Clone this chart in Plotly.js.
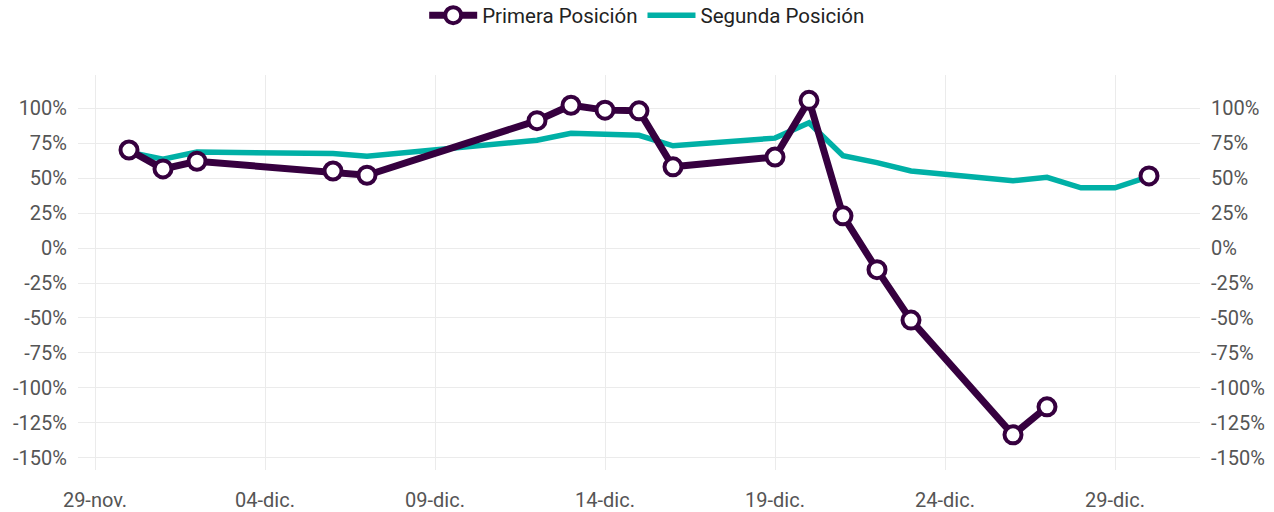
<!DOCTYPE html>
<html>
<head>
<meta charset="utf-8">
<script src="https://cdn.plot.ly/plotly-3.0.1.min.js"></script>
<style>html,body{margin:0;padding:0;background:#fff;}#chart{width:1274px;height:512px;}</style>
</head>
<body>
<div id="chart"></div>
<script>
const dates = ['2021-11-30','2021-12-01','2021-12-02','2021-12-06','2021-12-07','2021-12-12','2021-12-13','2021-12-14','2021-12-15','2021-12-16','2021-12-19','2021-12-20','2021-12-21','2021-12-22','2021-12-23','2021-12-26','2021-12-27','2021-12-28','2021-12-29','2021-12-30'];
const primera = [70, 56.5, 62, 55, 52, 91, 102, 98.5, 98, 58, 65, 105.5, 23, -15.5, -51.5, -133.5, -113.5, null, null, 51.5];
const segunda = [68.5, 63.5, 68.5, 67.5, 65.5, 77, 82, 81.5, 80.5, 73, 78.5, 89.5, 66, 61, 55, 48, 50.5, 43, 43, 51];
const xTickVals = ['2021-11-29','2021-12-04','2021-12-09','2021-12-14','2021-12-19','2021-12-24','2021-12-29'];
const xTickText = ['29-nov.','04-dic.','09-dic.','14-dic.','19-dic.','24-dic.','29-dic.'];
const yTickVals = [-150,-125,-100,-75,-50,-25,0,25,50,75,100];
const yTickText = ['-150%','-125%','-100%','-75%','-50%','-25%','0%','25%','50%','75%','100%'];
const seriesNames = ['Primera Posición','Segunda Posición'];

const purple = '#36003f';
const teal = '#00b0a6';
const yRange = [-158.6, 123.6];
const fontFam = 'Roboto, sans-serif';

const traces = [
  {x: dates, y: segunda, name: seriesNames[1], type: 'scatter', mode: 'lines',
   line: {color: teal, width: 5.5}, connectgaps: false, hoverinfo: 'skip'},
  {x: dates, y: primera, name: seriesNames[0], type: 'scatter', mode: 'lines+markers',
   line: {color: purple, width: 7}, connectgaps: false,
   marker: {symbol: 'circle', size: 17, color: '#ffffff', line: {color: purple, width: 4}},
   hoverinfo: 'skip'},
  {x: dates, y: segunda, yaxis: 'y2', type: 'scatter', mode: 'lines', showlegend: false,
   line: {color: 'rgba(0,0,0,0)', width: 0}, hoverinfo: 'skip'}
];

const tickFont = {family: fontFam, size: 20, color: '#555555'};
const layout = {
  width: 1274, height: 512,
  margin: {l: 78, r: 74, t: 75, b: 42},
  paper_bgcolor: '#ffffff', plot_bgcolor: '#ffffff',
  font: {family: fontFam, size: 20, color: '#222222'},
  showlegend: true,
  legend: {orientation: 'h', x: 0.508, xref: 'container', xanchor: 'center',
           y: 0.97, yref: 'container', yanchor: 'middle', itemwidth: 48,
           traceorder: 'reversed', font: {family: fontFam, size: 20.5, color: '#222222'}},
  xaxis: {type: 'date', range: ['2021-11-28 12:00', '2021-12-31 12:00'],
          tickvals: xTickVals, ticktext: xTickText, tickfont: tickFont,
          showgrid: true, gridcolor: '#ebebeb', gridwidth: 1, zeroline: false,
          showline: false, ticks: '', ticklabelstandoff: 16},
  yaxis: {range: yRange, tickvals: yTickVals, ticktext: yTickText, tickfont: tickFont,
          showgrid: true, gridcolor: '#ebebeb', gridwidth: 1, zeroline: false,
          showline: false, ticks: '', ticklabelstandoff: 10},
  yaxis2: {range: yRange, tickvals: yTickVals, ticktext: yTickText, tickfont: tickFont,
           overlaying: 'y', side: 'right', showgrid: false, zeroline: false,
           showline: false, ticks: '', ticklabelstandoff: 10}
};

Plotly.newPlot('chart', traces, layout, {displayModeBar: false, staticPlot: true});
</script>
</body>
</html>
